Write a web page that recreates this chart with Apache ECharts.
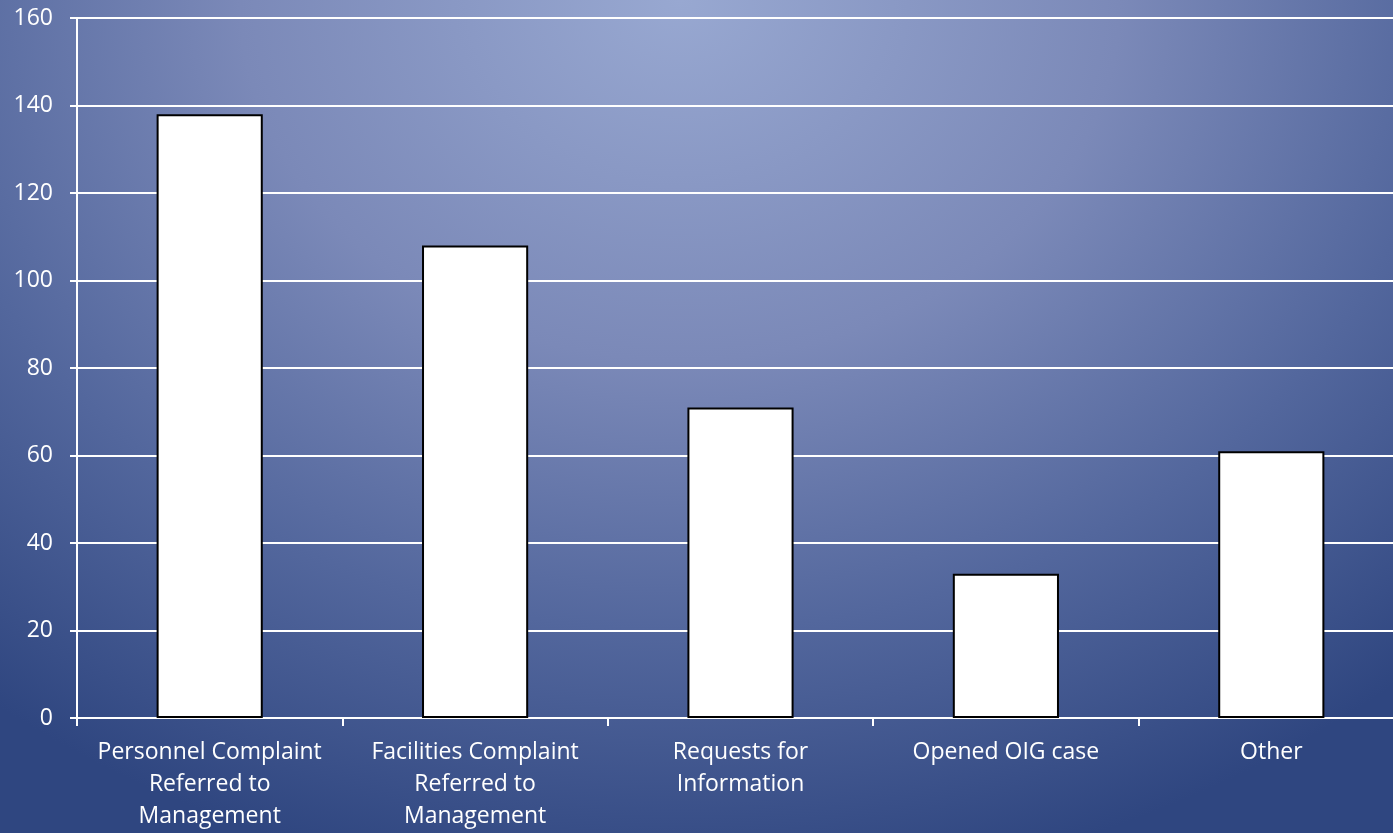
<!DOCTYPE html>
<html><head><meta charset="utf-8">
<script src="https://cdn.jsdelivr.net/npm/echarts@6/dist/echarts.min.js"></script>
<style>
html,body{margin:0;padding:0;}
#c{width:1393px;height:833px;background:radial-gradient(ellipse 1100px 900px at 680px 0px,#98a8d1 0%,#7b89b8 40%,#53679d 70%,#2f4680 100%);}
</style></head>
<body><div id="c"></div>
<script>
const categories = ["Personnel Complaint\nReferred to\nManagement","Facilities Complaint\nReferred to\nManagement","Requests for\nInformation","Opened OIG case","Other"];
const values = [138,108,71,33,61];
const yTicks = {min:0,max:160,interval:20};
const chart = echarts.init(document.getElementById('c'));
const font = "'Open Sans', Lato, sans-serif";
chart.setOption({
  backgroundColor:'transparent',
  animation:false,
  grid:{left:77,width:1327,top:18,bottom:115,containLabel:false,outerBoundsMode:'none'},
  xAxis:{type:'category',data:categories,
    axisLine:{lineStyle:{color:'#ffffff',width:2}},
    axisTick:{show:true,length:8,lineStyle:{color:'#ffffff',width:2},alignWithLabel:false},
    axisLabel:{color:'#ffffff',fontSize:23,fontFamily:font,lineHeight:32,margin:18,interval:0}},
  yAxis:{type:'value',min:yTicks.min,max:yTicks.max,interval:yTicks.interval,
    axisLine:{show:true,lineStyle:{color:'#ffffff',width:2}},
    axisTick:{show:true,length:7,lineStyle:{color:'#ffffff',width:2}},
    splitLine:{lineStyle:{color:'#ffffff',width:2}},
    axisLabel:{color:'#ffffff',fontSize:23,fontFamily:font,margin:24}},
  series:[{type:'bar',data:values,barWidth:'40%',
    itemStyle:{color:'#ffffff',borderColor:'#000000',borderWidth:2}}]
});
</script></body></html>
